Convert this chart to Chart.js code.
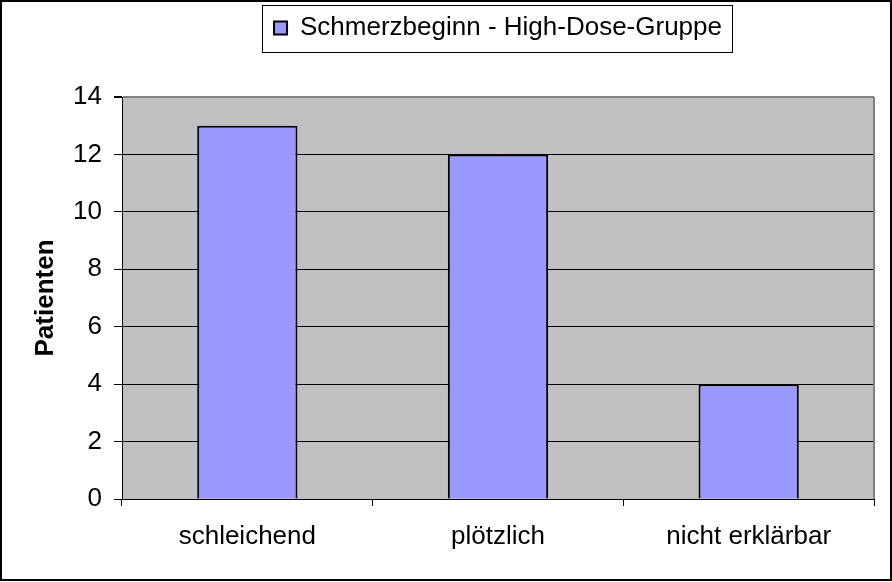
<!DOCTYPE html>
<html>
<head>
<meta charset="utf-8">
<script src="https://cdn.jsdelivr.net/npm/chart.js@4.4.1/dist/chart.umd.min.js"></script>
<style>
  html, body { margin: 0; padding: 0; background: #fff; }
</style>
</head>
<body>
<canvas id="myChart" width="892" height="582"></canvas>
<script>
var categories = ["schleichend", "plötzlich", "nicht erklärbar"];
var patients = [13, 12, 4];
var seriesLabel = "Schmerzbeginn - High-Dose-Gruppe";
var yAxisTitle = "Patienten";
var yMin = 0, yMax = 14, yStep = 2;

var FONT = "'Liberation Sans', Arial, sans-serif";

// grey plot area + outer frame + legend box
var framePlugin = {
    id: 'frame',
    beforeInit: function(chart) {
        var legend = chart.legend;
        if (legend) {
            var origFit = legend.fit;
            legend.fit = function() {
                origFit.call(this);
                this.height = 92; // push plot area down like the original
            };
        }
    },
    beforeDraw: function(chart) {
        var ctx = chart.ctx, a = chart.chartArea;
        ctx.save();
        ctx.fillStyle = '#ffffff';
        ctx.fillRect(0, 0, chart.width, chart.height);
        ctx.fillStyle = '#c0c0c0';
        ctx.fillRect(a.left, a.top, a.right - a.left, a.bottom - a.top);
        ctx.restore();
    },
    beforeDatasetsDraw: function(chart) {
        var ctx = chart.ctx, a = chart.chartArea;
        ctx.save();
        ctx.strokeStyle = '#808080';
        ctx.lineWidth = 2;
        ctx.beginPath();
        ctx.moveTo(a.right, a.top);
        ctx.lineTo(a.right, a.bottom);
        ctx.stroke();
        ctx.restore();
    },
    afterDraw: function(chart) {
        var ctx = chart.ctx;
        ctx.save();
        ctx.strokeStyle = '#000';
        ctx.lineWidth = 2;
        ctx.strokeRect(1, 1, chart.width - 2, chart.height - 3);
        var hb = chart.legend && chart.legend.legendHitBoxes && chart.legend.legendHitBoxes[0];
        if (hb) {
            ctx.lineWidth = 1;
            ctx.strokeRect(Math.round(hb.left - 12) + 0.5, Math.round(hb.top - 10) + 0.5,
                Math.round(hb.width + 22), Math.round(hb.height + 21));
        }
        ctx.restore();
    }
};

var ctx = document.getElementById("myChart").getContext("2d");
var chart = new Chart(ctx, {
    type: 'bar',
    data: {
        labels: categories,
        datasets: [{
            label: seriesLabel,
            data: patients,
            backgroundColor: '#9999ff',
            borderColor: '#000000',
            borderWidth: 2,
            barPercentage: 0.4,
            categoryPercentage: 1.0
        }]
    },
    options: {
        responsive: false,
        animation: false,
        layout: { padding: { top: 5, right: 18, bottom: 0, left: 0 } },
        plugins: {
            tooltip: { enabled: false },
            legend: {
                display: true,
                position: 'top',
                fullSize: false,
                labels: {
                    color: '#000',
                    boxWidth: 13,
                    boxHeight: 13,
                    padding: 10,
                    font: { family: FONT, size: 26 }
                }
            }
        },
        scales: {
            x: {
                offset: true,
                grid: {
                    offset: true,
                    drawOnChartArea: false,
                    drawTicks: true,
                    tickLength: 7,
                    color: '#000'
                },
                border: { color: '#000', width: 1 },
                ticks: {
                    color: '#000',
                    padding: 15,
                    maxRotation: 0,
                    font: { family: FONT, size: 26 }
                },
                afterFit: function(s) { s.height = 83; }
            },
            y: {
                min: yMin,
                max: yMax,
                ticks: {
                    stepSize: yStep,
                    color: '#000',
                    padding: 12,
                    font: { family: FONT, size: 26 }
                },
                grid: {
                    tickLength: 8,
                    color: function(c) { return c.tick && c.tick.value === yMax ? '#808080' : '#000'; },
                    tickColor: '#000',
                    lineWidth: function(c) { return c.tick && c.tick.value === yMax ? 2 : 1; }
                },
                border: { color: '#000', width: 1 },
                title: {
                    display: true,
                    text: yAxisTitle,
                    color: '#000',
                    padding: { top: 30, bottom: 0 },
                    font: { family: FONT, size: 26, weight: 'bold' }
                },
                afterFit: function(s) { s.width = 122; }
            }
        }
    },
    plugins: [framePlugin]
});
</script>
</body>
</html>
